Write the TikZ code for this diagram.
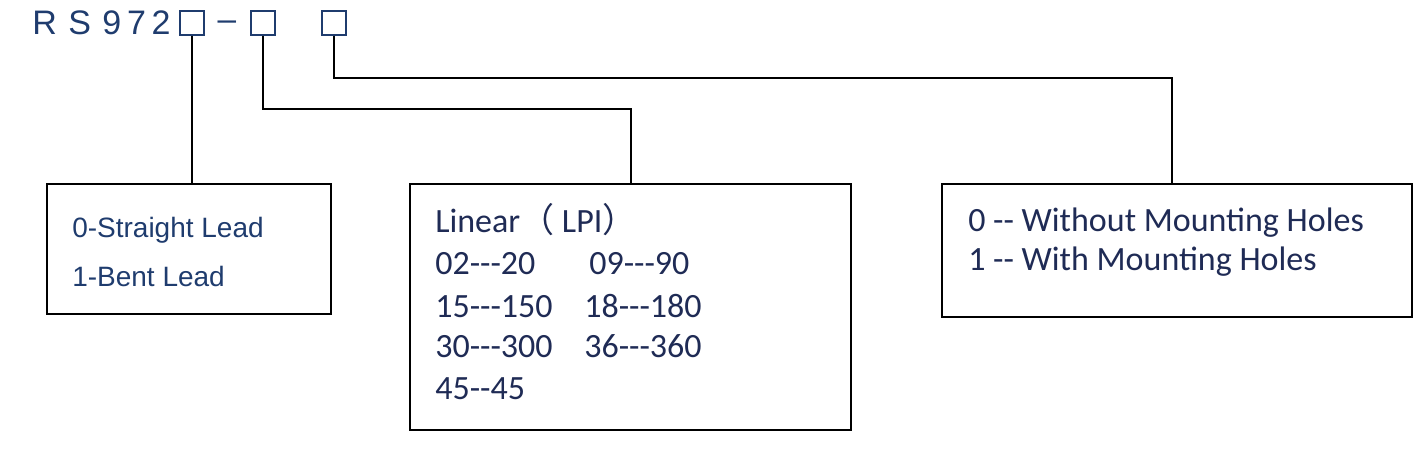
\documentclass[tikz,border=0pt]{standalone}
\usepackage{fontspec}
\usepackage{xcolor}
\usepackage{tikz}
\setmainfont{Liberation Sans}
\newfontfamily\calfont{Carlito}
\newfontfamily\cjk{Noto Sans CJK SC}
\definecolor{codeblue}{HTML}{1F3C6E}
\definecolor{textnavy}{HTML}{1F2B55}

\begin{document}
\begin{tikzpicture}[x=0.75pt,y=-0.75pt,
  sq/.style={draw=codeblue, line width=1.5pt, minimum size=18pt, inner sep=0pt},
  optbox/.style={draw, line width=2.2pt, inner sep=0pt},
  link/.style={draw, line width=1.5pt},
  txta/.style={anchor=base west, inner sep=0pt, text=codeblue, font=\fontsize{21}{25}\selectfont},
  txtb/.style={anchor=base west, inner sep=0pt, text=textnavy, font=\calfont\fontsize{25.5}{30}\selectfont}]
\useasboundingbox (0,0) rectangle (1426,458);
% Code
\node[anchor=base west, inner sep=0pt, text=codeblue, font=\fontsize{25.5}{30}\selectfont\addfontfeature{LetterSpace=6}] (code) at (32,34) {R S 9\,7\,2};
\node[sq] (s1) at (191.5,22.5) {};
\node[inner sep=0pt, text=codeblue, font=\fontsize{25}{30}\selectfont] (dash) at (227,26) {–};
\node[sq] (s2) at (262.5,22.5) {};
\node[sq] (s3) at (333.5,22.5) {};
% Boxes
\node[optbox, minimum width=213pt, minimum height=97.5pt] (lead) at (189,249) {};
\node[optbox, minimum width=330.75pt, minimum height=184.5pt] (lpi) at (630.5,307) {};
\node[optbox, minimum width=352.5pt, minimum height=99.75pt] (holes) at (1177,250.5) {};
% Texts
\node[txta] (a0) at (72,237) {0-Straight Lead};
\node[txta] (a1) at (72,286) {1-Bent Lead};
\node[txtb] (b0) at (435,232) {Linear{\cjk（} LPI{\cjk）}};
\node[txtb] (b1) at (435,274) {02---20};
\node[txtb] (b2) at (435,317) {15---150};
\node[txtb] (b3) at (435,357) {30---300};
\node[txtb] (b4) at (435,399) {45--45};
\node[txtb] (c1) at (589,274) {09---90};
\node[txtb] (c2) at (584,317) {18---180};
\node[txtb] (c3) at (584,357) {36---360};
\node[txtb] (h0) at (968,231) {0 -- Without Mounting Holes};
\node[txtb] (h1) at (968,270) {1 -- With Mounting Holes};
% Links
\coordinate (k2) at (631,109);
\coordinate (k3) at (1172,78);
\draw[link] (s1.south) -- (s1.south |- lead.north);
\draw[link] (s2.south) |- (k2) -- (k2 |- lpi.north);
\draw[link] (s3.south) |- (k3) -- (k3 |- holes.north);
\end{tikzpicture}
\end{document}
